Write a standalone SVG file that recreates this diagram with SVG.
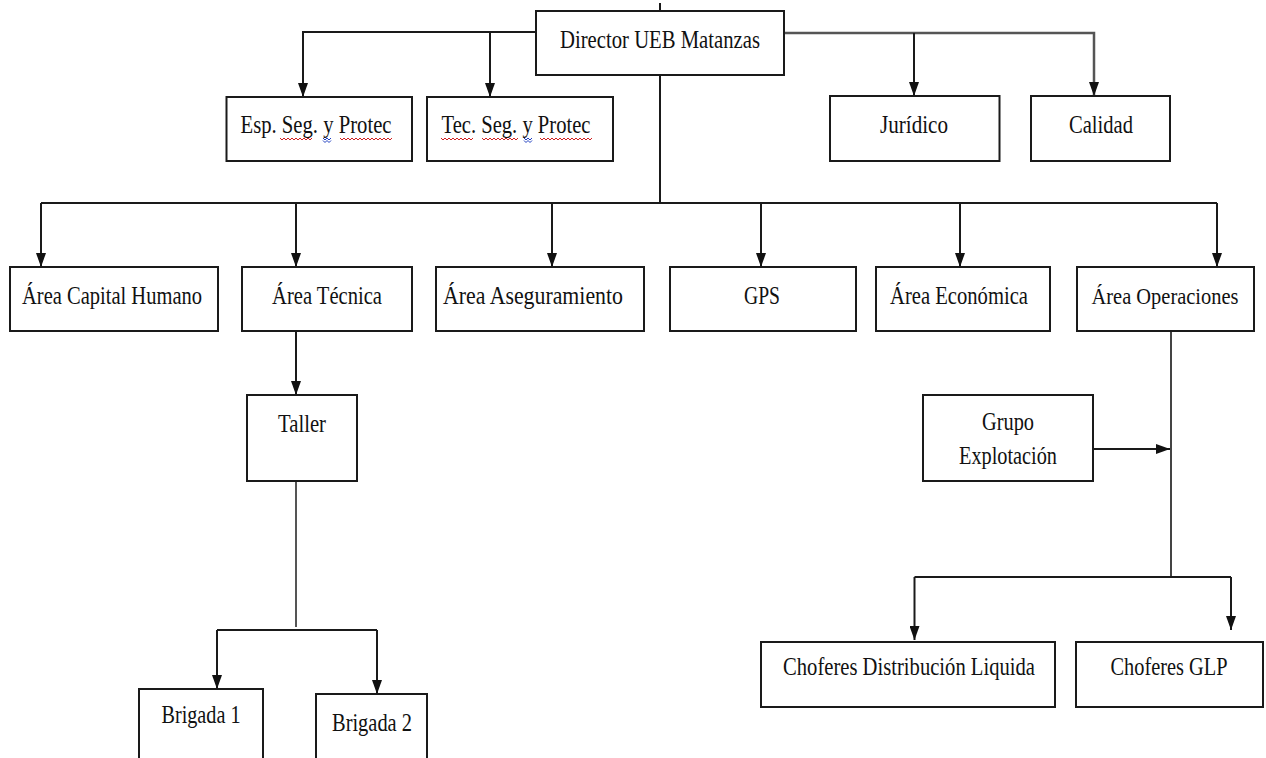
<svg xmlns="http://www.w3.org/2000/svg" width="1266" height="758" viewBox="0 0 1266 758">
<defs>
<style>
.box{fill:#fff;stroke:#1a1a1a;stroke-width:2}
.t{font-family:"Liberation Serif","Times New Roman",serif;font-size:26px;fill:#111;text-anchor:middle}
.c{fill:none;stroke:#1a1a1a;stroke-width:2}
.sq{fill:none;stroke:#d02020;stroke-width:1}
.sqb{fill:none;stroke:#2040c0;stroke-width:1}
</style>
<marker id="ah" markerUnits="userSpaceOnUse" markerWidth="14" markerHeight="10" refX="14" refY="5" orient="auto">
<path d="M0,0 L14,5 L0,10 z" fill="#111"/>
</marker>
</defs>
<rect width="1266" height="758" fill="#fff"/>
<g id="connectors">
<line class="c" x1="660" y1="3" x2="660" y2="11"/>
<polyline class="c" points="536,32 303,32 303,97" marker-end="url(#ah)"/>
<line class="c" x1="490" y1="32" x2="490" y2="97" marker-end="url(#ah)"/>
<polyline class="c" points="784,33 1094,33 1094,96" marker-end="url(#ah)" style="stroke:#555;stroke-width:2.5"/>
<line class="c" x1="914" y1="33" x2="914" y2="96" marker-end="url(#ah)"/>
<line class="c" x1="660" y1="75" x2="660" y2="203"/>
<line class="c" x1="41" y1="203" x2="1217" y2="203"/>
<line class="c" x1="41" y1="203" x2="41" y2="267" marker-end="url(#ah)"/>
<line class="c" x1="296" y1="203" x2="296" y2="267" marker-end="url(#ah)"/>
<line class="c" x1="552" y1="203" x2="552" y2="267" marker-end="url(#ah)"/>
<line class="c" x1="761" y1="203" x2="761" y2="267" marker-end="url(#ah)"/>
<line class="c" x1="960" y1="203" x2="960" y2="267" marker-end="url(#ah)"/>
<line class="c" x1="1217" y1="203" x2="1217" y2="267" marker-end="url(#ah)"/>
<line class="c" x1="296" y1="332" x2="296" y2="395" marker-end="url(#ah)"/>
<line class="c" x1="296" y1="481" x2="296" y2="627" style="stroke:#555"/>
<line class="c" x1="217" y1="630" x2="377" y2="630"/>
<line class="c" x1="217" y1="630" x2="217" y2="689" marker-end="url(#ah)"/>
<line class="c" x1="377" y1="630" x2="377" y2="694" marker-end="url(#ah)"/>
<line class="c" x1="1171" y1="332" x2="1171" y2="577" style="stroke:#444"/>
<line class="c" x1="1093" y1="449" x2="1170" y2="449" marker-end="url(#ah)"/>
<line class="c" x1="914.5" y1="577" x2="1231" y2="577"/>
<line class="c" x1="914.5" y1="577" x2="914.5" y2="640" marker-end="url(#ah)"/>
<line class="c" x1="1231" y1="577" x2="1231" y2="630" marker-end="url(#ah)"/>
</g>
<g id="director">
<rect class="box" x="536" y="11" width="248" height="64"/>
<text class="t" x="660" y="48" textLength="200" lengthAdjust="spacingAndGlyphs">Director UEB Matanzas</text>
</g>
<g id="esp">
<rect class="box" x="226.5" y="97" width="185.5" height="64"/>
<text class="t" x="316" y="133" textLength="151" lengthAdjust="spacingAndGlyphs">Esp. Seg. y Protec</text>
<path class="sq" d="M280,138 l2,2 l2,-2 l2,2 l2,-2 l2,2 l2,-2 l2,2 l2,-2 l2,2 l2,-2 l2,2 l2,-2 l2,2 l2,-2 l2,2 l2,-2"/>
<path class="sqb" d="M323,138 l2,2 l2,-2 l2,2 l2,-2 M323,140.5 l2,2 l2,-2 l2,2 l2,-2"/>
<path class="sq" d="M340,138 l2,2 l2,-2 l2,2 l2,-2 l2,2 l2,-2 l2,2 l2,-2 l2,2 l2,-2 l2,2 l2,-2 l2,2 l2,-2 l2,2 l2,-2 l2,2 l2,-2 l2,2 l2,-2 l2,2 l2,-2 l2,2 l2,-2 l2,2 l2,-2"/>
</g>
<g id="tec">
<rect class="box" x="427" y="97" width="186" height="64"/>
<text class="t" x="516" y="133" textLength="149" lengthAdjust="spacingAndGlyphs">Tec. Seg. y Protec</text>
<path class="sq" d="M441,138 l2,2 l2,-2 l2,2 l2,-2 l2,2 l2,-2 l2,2 l2,-2 l2,2 l2,-2 l2,2 l2,-2 l2,2 l2,-2 l2,2 l2,-2"/>
<path class="sq" d="M482,138 l2,2 l2,-2 l2,2 l2,-2 l2,2 l2,-2 l2,2 l2,-2 l2,2 l2,-2 l2,2 l2,-2 l2,2 l2,-2 l2,2 l2,-2 l2,2 l2,-2"/>
<path class="sqb" d="M524,138 l2,2 l2,-2 l2,2 l2,-2 M524,140.5 l2,2 l2,-2 l2,2 l2,-2"/>
<path class="sq" d="M540,138 l2,2 l2,-2 l2,2 l2,-2 l2,2 l2,-2 l2,2 l2,-2 l2,2 l2,-2 l2,2 l2,-2 l2,2 l2,-2 l2,2 l2,-2 l2,2 l2,-2 l2,2 l2,-2 l2,2 l2,-2 l2,2 l2,-2 l2,2 l2,-2"/>
</g>
<g id="juridico">
<rect class="box" x="830" y="96" width="169.5" height="65"/>
<text class="t" x="914" y="133" textLength="68" lengthAdjust="spacingAndGlyphs">Jurídico</text>
</g>
<g id="calidad">
<rect class="box" x="1031" y="96" width="139" height="65"/>
<text class="t" x="1101" y="133" textLength="64" lengthAdjust="spacingAndGlyphs">Calidad</text>
</g>
<g id="capital-humano">
<rect class="box" x="10" y="267" width="208" height="64"/>
<text class="t" x="112" y="304" textLength="180" lengthAdjust="spacingAndGlyphs">Área Capital Humano</text>
</g>
<g id="tecnica">
<rect class="box" x="242" y="267" width="170" height="64"/>
<text class="t" x="327" y="304" textLength="110" lengthAdjust="spacingAndGlyphs">Área Técnica</text>
</g>
<g id="aseguramiento">
<rect class="box" x="436" y="267" width="208" height="64"/>
<text class="t" x="533" y="304" textLength="180" lengthAdjust="spacingAndGlyphs">Área Aseguramiento</text>
</g>
<g id="gps">
<rect class="box" x="670" y="267" width="186" height="64"/>
<text class="t" x="762" y="304" textLength="36" lengthAdjust="spacingAndGlyphs">GPS</text>
</g>
<g id="economica">
<rect class="box" x="876" y="267" width="174" height="64"/>
<text class="t" x="959" y="304" textLength="138" lengthAdjust="spacingAndGlyphs">Área Económica</text>
</g>
<g id="operaciones">
<rect class="box" x="1077" y="267" width="177" height="64"/>
<text class="t" x="1165" y="304" style="font-size:24px" textLength="147" lengthAdjust="spacingAndGlyphs">Área Operaciones</text>
</g>
<g id="taller">
<rect class="box" x="247" y="395" width="110" height="86"/>
<text class="t" x="302" y="432" textLength="48" lengthAdjust="spacingAndGlyphs">Taller</text>
</g>
<g id="brigada1">
<rect class="box" x="139" y="689" width="124" height="75"/>
<text class="t" x="201" y="723" textLength="79" lengthAdjust="spacingAndGlyphs">Brigada 1</text>
</g>
<g id="brigada2">
<rect class="box" x="316" y="694" width="111" height="70"/>
<text class="t" x="372" y="731" textLength="80" lengthAdjust="spacingAndGlyphs">Brigada 2</text>
</g>
<g id="grupo-explotacion">
<rect class="box" x="923" y="395" width="170" height="86"/>
<text class="t" x="1008" y="430" textLength="52" lengthAdjust="spacingAndGlyphs">Grupo</text>
<text class="t" x="1008" y="464" textLength="98" lengthAdjust="spacingAndGlyphs">Explotación</text>
</g>
<g id="choferes-distribucion">
<rect class="box" x="761" y="642" width="294" height="65"/>
<text class="t" x="909" y="675" textLength="252" lengthAdjust="spacingAndGlyphs">Choferes Distribución Liquida</text>
</g>
<g id="choferes-glp">
<rect class="box" x="1076" y="642" width="187" height="65"/>
<text class="t" x="1169" y="675" textLength="117" lengthAdjust="spacingAndGlyphs">Choferes GLP</text>
</g>
</svg>
